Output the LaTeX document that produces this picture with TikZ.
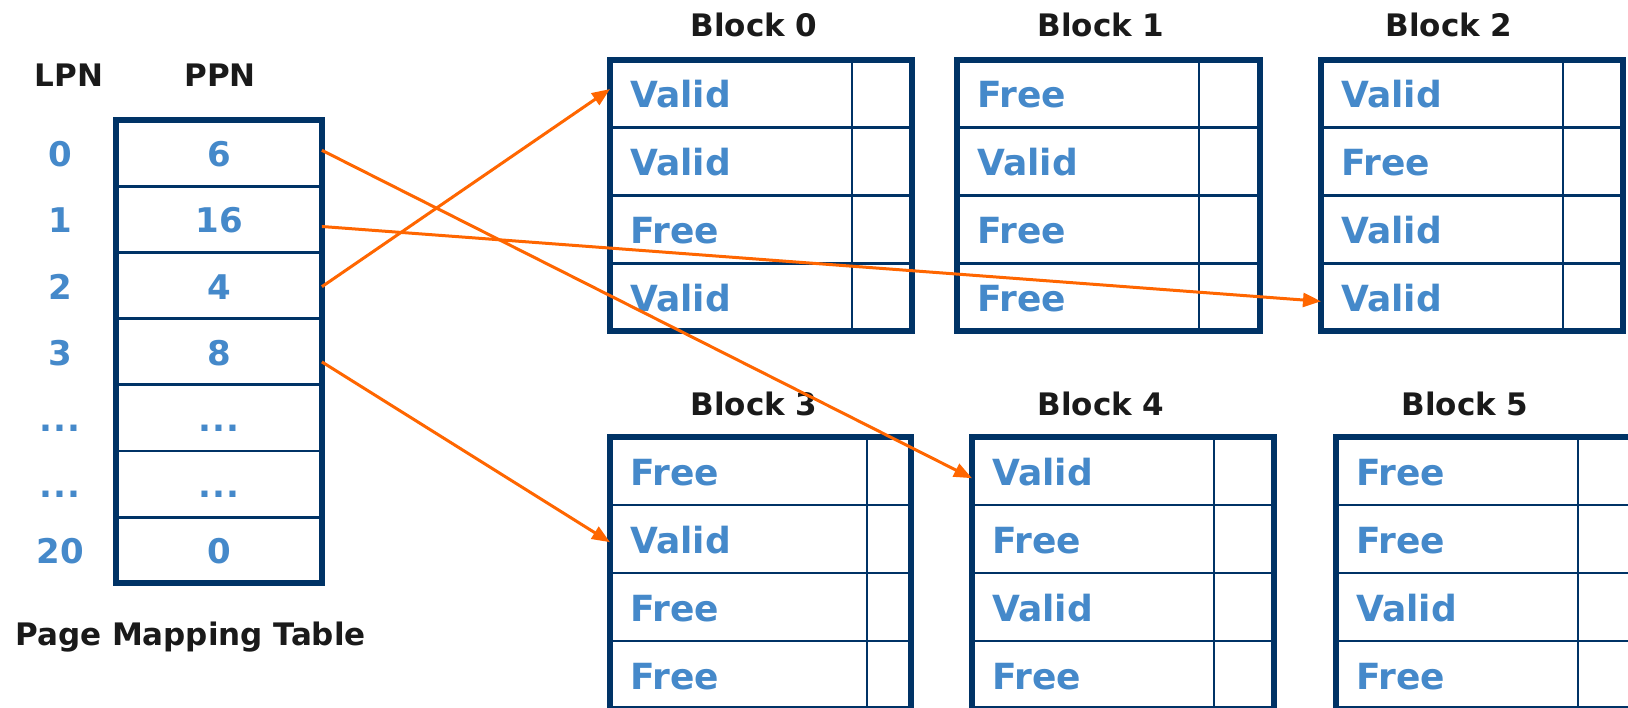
\documentclass[tikz,border=0pt]{standalone}
\usepackage{fontspec}
\setmainfont{DejaVu Sans}
\usetikzlibrary{arrows.meta}

\definecolor{navy}{HTML}{003366}
\definecolor{cellblue}{HTML}{4589CA}
\definecolor{mapline}{HTML}{FF6600}
\definecolor{labelink}{HTML}{1A1A1A}

% elided table rows
\newcommand\skiprow{.\kern1.5pt.\kern1.5pt.}

% One flash block: #1 id, #2 left, #3 top, #4 right, #5 divider x, #6 row height, #7 page states
\newcommand\flashblock[7]{%
  \foreach \s [count=\i from 0] in {#7} {
    \node[cell, minimum width={#4-#2}, minimum height=#6, anchor=north west]
      (b#1r\i) at (#2, {#3+\i*#6}) {};
    \node[state] (b#1t\i) at ({#2+20}, {#3+(\i+0.5)*#6+14}) {\s};
  }
  \foreach \i in {1,2,3} {
    \draw[rule] (#2, {#3+\i*#6}) -- (#4, {#3+\i*#6});
  }
  \draw[rule] (#5, #3) -- (#5, {#3+4*#6});
  \draw[frame] (#2, #3) rectangle (#4, {#3+4*#6});
}

\begin{document}
\begin{tikzpicture}[x=1pt, y=-1pt,
  cell/.style={rectangle, inner sep=0pt, draw=none},
  state/.style={anchor=base west, inner sep=0pt, text=cellblue,
    font=\bfseries\fontsize{36}{36}\selectfont},
  num/.style={anchor=base, inner sep=0pt, text=cellblue,
    font=\bfseries\fontsize{34}{34}\selectfont},
  title/.style={anchor=base, inner sep=0pt, text=labelink,
    font=\bfseries\fontsize{31}{31}\selectfont},
  frame/.style={draw=navy, line width=6pt},
  rule/.style={draw=navy, line width=2.7pt},
  maparrow/.style={draw=mapline, line width=3pt,
    -{Triangle[length=18pt, width=14pt]}},
]
\fill[white] (0,0) rectangle (1628,707);
\useasboundingbox (0,0) rectangle (1628,707);

% ---- page mapping table ----
\node[title] (lpnhead) at (69,86) {LPN};
\node[title] (ppnhead) at (220,86) {PPN};
\foreach \l/\p [count=\i from 0] in {0/6, 1/16, 2/4, 3/8, \skiprow/\skiprow, \skiprow/\skiprow, 20/0} {
  \node[cell, minimum width=205.5, minimum height=66.2, anchor=north west]
    (p\i) at (116, {120+\i*66.2}) {};
  \node[num] (pv\i) at (219, {120+(\i+0.5)*66.2+13.5}) {\p};
  \node[num] (lv\i) at (60, {120+(\i+0.5)*66.2+13.5}) {\l};
}
\foreach \i in {1,...,6} {
  \draw[rule] (116, {120+\i*66.2}) -- (321.5, {120+\i*66.2});
}
\draw[frame] (116,120) rectangle (321.5,583.4);
\node[title, anchor=base west] (tablename) at (15,645) {Page Mapping Table};

% ---- flash blocks ----
\node[title] (blk0) at (754,36) {Block 0};
\node[title] (blk1) at (1101,36) {Block 1};
\node[title] (blk2) at (1449,36) {Block 2};
\node[title] (blk3) at (754,415) {Block 3};
\node[title] (blk4) at (1101,415) {Block 4};
\node[title] (blk5) at (1465,415) {Block 5};

\flashblock{0}{610}{60}{912}{852}{67.75}{Valid,Valid,Free,Valid}
\flashblock{1}{957}{60}{1260}{1199}{67.75}{Free,Valid,Free,Free}
\flashblock{2}{1321}{60}{1623}{1563}{67.75}{Valid,Free,Valid,Valid}
\flashblock{3}{610}{437}{911}{867}{68}{Free,Valid,Free,Free}
\flashblock{4}{972}{437}{1274}{1214}{68}{Valid,Free,Valid,Free}
\flashblock{5}{1336}{437}{1640}{1578}{68}{Free,Free,Valid,Free}

% ---- mappings LPN -> physical page ----
\draw[maparrow] ([yshift=3pt]p0.east) -- ([yshift=-7pt]b4r0.west);
\draw[maparrow] ([yshift=-7pt]p1.east) -- ([yshift=-4pt]b2r3.west);
\draw[maparrow] ([yshift=-1pt]p2.east) -- ([yshift=5pt]b0r0.west);
\draw[maparrow] ([yshift=-10pt]p3.east) -- ([yshift=-3pt]b3r1.west);
\end{tikzpicture}
\end{document}
